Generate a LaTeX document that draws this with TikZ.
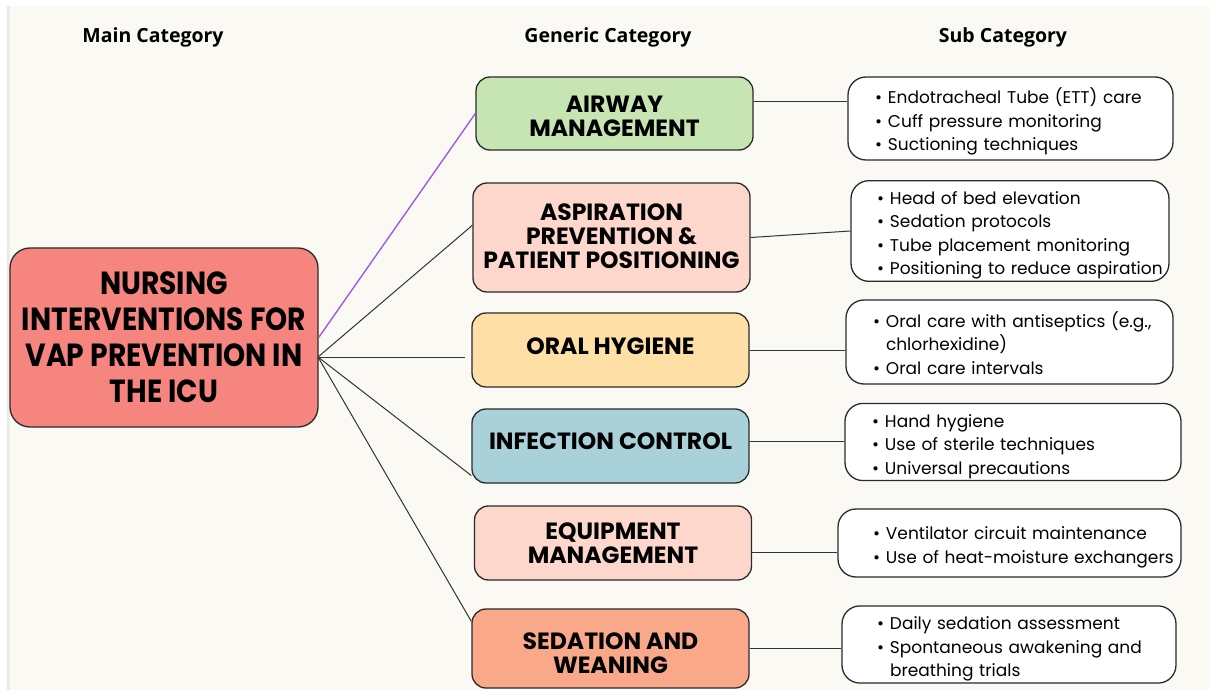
\documentclass[tikz,border=0pt]{standalone}
\usepackage{fontspec}
\usetikzlibrary{calc}
\setmainfont{Open Sans}
\newfontfamily\boxfont{Poppins}
\newfontfamily\mainboxfont[FakeStretch=0.88]{Poppins}
\definecolor{paper}{HTML}{FAF9F4}
\definecolor{edge}{HTML}{2B2B2B}
\definecolor{mainred}{HTML}{F7857F}
\definecolor{airgreen}{HTML}{C6E5B3}
\definecolor{softpink}{HTML}{FDD6CC}
\definecolor{oralsand}{HTML}{FEE0A6}
\definecolor{infblue}{HTML}{A9D1D9}
\definecolor{sedsalmon}{HTML}{F9A98A}
\definecolor{linkpurple}{HTML}{9B5CE6}
\tikzset{
	head/.style={font=\fontsize{19.5}{22}\selectfont\bfseries},
	gen/.style={draw=edge, line width=1.3pt, rounded corners=14pt, minimum width=277pt, align=center,
		font=\boxfont\bfseries\fontsize{23.5}{24}\selectfont},
	sub/.style={draw=edge, line width=1.3pt, rounded corners=18pt, fill=white, align=left, inner xsep=0pt,
		font=\boxfont\fontsize{17}{23.5}\selectfont},
	link/.style={line width=1pt, draw=black!80},
}
\newcommand\pts[1]{\raisebox{-4pt}[\height][\depth]{\begin{tabular}{@{}l@{\hspace{6pt}}l@{}}#1\end{tabular}}}
\newcommand\lift[2]{\raisebox{#1}[\height][\depth]{\begin{tabular}{@{}c@{}}#2\end{tabular}}}
\begin{document}
\begin{tikzpicture}[x=1pt,y=-1pt]
	\fill[white] (0,0) rectangle (1216,695);
	\fill[paper] (7,6) rectangle (1210,690);
	\fill[black!8] (7,6) rectangle (10,690);
	% column heads
	\node[head] (hmain) at (153,37) {Main Category};
	\node[head] (hgen) at (608,37) {Generic Category};
	\node[head] (hsub) at (1003,37) {Sub Category};
	% main category
	\node[draw=edge, line width=1.3pt, rounded corners=20pt, fill=mainred, minimum width=308pt, minimum height=179pt,
		align=center, font=\mainboxfont\bfseries\fontsize{32}{36}\selectfont] (main) at (164,337.5)
		{NURSING\\INTERVENTIONS FOR\\VAP PREVENTION IN\\THE ICU};
	% generic categories
	\node[gen, fill=airgreen, minimum height=73pt] (airway) at (614.5,113.5) {\lift{-6pt}{AIRWAY\\MANAGEMENT}};
	\node[gen, fill=softpink, minimum height=109pt] (aspir) at (611.5,237.5) {\lift{-2pt}{ASPIRATION\\PREVENTION \&\\PATIENT POSITIONING}};
	\node[gen, fill=oralsand, minimum height=74pt] (oral) at (610.5,350) {\lift{0pt}{ORAL HYGIENE}};
	\node[gen, fill=infblue, minimum height=74pt] (infect) at (610.5,446) {\lift{1pt}{INFECTION CONTROL}};
	\node[gen, fill=softpink, minimum height=74pt] (equip) at (613,543) {\lift{-4pt}{EQUIPMENT\\MANAGEMENT}};
	\node[gen, fill=sedsalmon, minimum height=79pt] (sedat) at (610.5,648.5) {\lift{-8pt}{SEDATION AND\\WEANING}};
	% sub categories
	\node[sub, text width=325pt, minimum height=83pt] (s1) at (1010.5,118.5)
		{\hspace{27pt}\pts{• & Endotracheal Tube (ETT) care\\ • & Cuff pressure monitoring\\ • & Suctioning techniques}};
	\node[sub, text width=318pt, minimum height=98pt] (s2) at (1010,231)
		{\hspace{26pt}\pts{• & Head of bed elevation\\ • & Sedation protocols\\ • & Tube placement monitoring\\ • & Positioning to reduce aspiration}};
	\node[sub, text width=327pt, minimum height=84pt] (s3) at (1009.5,342)
		{\hspace{27pt}\pts{• & Oral care with antiseptics (e.g.,\\ & chlorhexidine)\\ • & Oral care intervals}};
	\node[sub, text width=336pt, minimum height=72pt] (s4) at (1013,442)
		{\hspace{27pt}\pts{• & Hand hygiene\\ • & Use of sterile techniques\\ • & Universal precautions}};
	\node[sub, text width=343pt, minimum height=68pt] (s5) at (1009.5,543)
		{\hspace{35pt}\pts{• & Ventilator circuit maintenance\\ • & Use of heat-moisture exchangers}};
	\node[sub, text width=334pt, minimum height=77pt] (s6) at (1009,644.5)
		{\hspace{35pt}\pts{• & Daily sedation assessment\\ • & Spontaneous awakening and\\ & breathing trials}};
	% links main -> generic
	\coordinate (hub) at (318,357);
	\coordinate (oralend) at (465,357);
	\draw[link, draw=linkpurple, line width=1.4pt] (main.east) -- (airway.west);
	\draw[link] (hub) -- (aspir.175);
	\draw[link] (hub) -- (oralend);
	\draw[link] (hub) -- (infect.192);
	\draw[link] (hub) -- (sedat.169);
	% links generic -> sub
	\draw[link] (airway.5) -- (s1.west |- airway.5);
	\draw[link] (aspir.east) -- (s2.west);
	\draw[link] (oral.east) -- (s3.west |- oral.east);
	\draw[link] (infect.2.5) -- (s4.west |- infect.2.5);
	\draw[link] (equip.-4) -- (s5.west |- equip.-4);
	\draw[link] (sedat.east) -- (s6.west |- sedat.east);
\end{tikzpicture}
\end{document}
